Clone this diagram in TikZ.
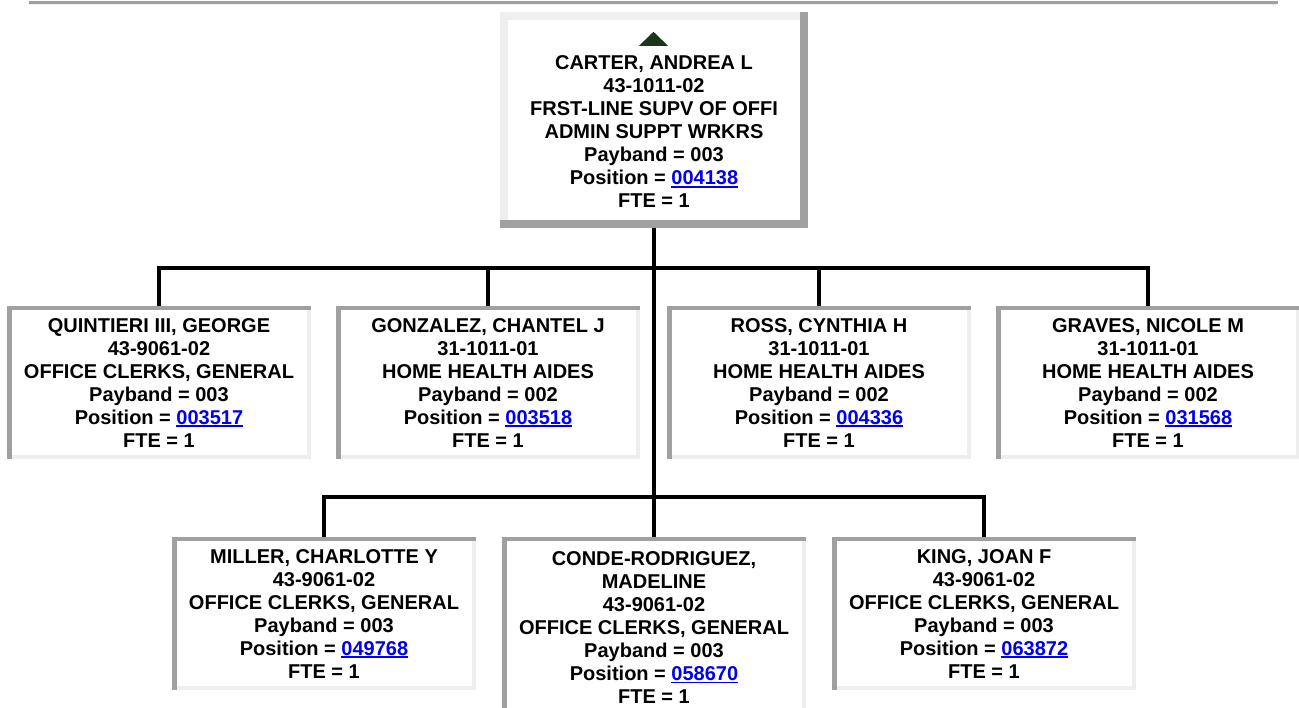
\documentclass[tikz,border=0pt]{standalone}
\usepackage{fontspec}
\setmainfont{Liberation Sans}
\definecolor{rimdark}{HTML}{A0A0A0}
\definecolor{rimlight}{HTML}{EEEEEE}
\definecolor{linkblue}{HTML}{0000EE}
\definecolor{upgreen}{HTML}{1C361C}
\newcommand{\poslink}[1]{\textcolor{linkblue}{\setbox0=\hbox{#1}\rlap{\rule[-2.6pt]{\wd0}{1.6pt}}\box0}}

\begin{document}
\begin{tikzpicture}[x=1pt, y=-1pt, font=\fontsize{20}{23}\selectfont\bfseries,
    emp/.style={anchor=north, minimum width=304pt, minimum height=153pt,
        inner xsep=4pt, inner ysep=10.5pt, align=center, fill=white,
        path picture={
            \fill[rimlight] ([xshift=-4pt]path picture bounding box.north east) rectangle (path picture bounding box.south east);
            \fill[rimlight] ([yshift=4pt]path picture bounding box.south west) rectangle (path picture bounding box.south east);
            \fill[rimdark] (path picture bounding box.north west) rectangle ([yshift=-4pt]path picture bounding box.north east);
            \fill[rimdark] (path picture bounding box.north west) rectangle ([xshift=5pt]path picture bounding box.south west);
        }},
    boss/.style={minimum width=308pt, minimum height=216pt, align=center, fill=white,
        path picture={
            \fill[rimdark] ([xshift=-8pt]path picture bounding box.north east) rectangle (path picture bounding box.south east);
            \fill[rimdark] ([yshift=8pt]path picture bounding box.south west) rectangle (path picture bounding box.south east);
            \fill[rimlight] (path picture bounding box.north west) rectangle ([yshift=-8pt,xshift=-8pt]path picture bounding box.north east);
            \fill[rimlight] (path picture bounding box.north west) rectangle ([xshift=8pt,yshift=8pt]path picture bounding box.south west);
        }},
    wire/.style={line width=4pt}]
    \clip (0,0) rectangle (1299,708);

    % page rule
    \fill[rimdark] (29,1) rectangle (1278,4);
    \fill[rimlight] (29,4) rectangle (1278,5.5);

    % manager
    \node[boss] (carter) at (654,120) {\rule{0pt}{15pt}\\ CARTER, ANDREA L\\ 43-1011-02\\ FRST-LINE SUPV OF OFFI\\ ADMIN SUPPT WRKRS\\ Payband = 003\\ Position = \poslink{004138}\\ FTE = 1};
    \fill[upgreen] ([yshift=-20pt,xshift=-0.5pt]carter.north) -- ++(14.5,14) -- ++(-29,0) -- cycle;

    % first row
    \node[emp] (quintieri) at (159,306) {QUINTIERI III, GEORGE\\ 43-9061-02\\ OFFICE CLERKS, GENERAL\\ Payband = 003\\ Position = \poslink{003517}\\ FTE = 1};
    \node[emp] (gonzalez) at (488,306) {GONZALEZ, CHANTEL J\\ 31-1011-01\\ HOME HEALTH AIDES\\ Payband = 002\\ Position = \poslink{003518}\\ FTE = 1};
    \node[emp] (ross) at (819,306) {ROSS, CYNTHIA H\\ 31-1011-01\\ HOME HEALTH AIDES\\ Payband = 002\\ Position = \poslink{004336}\\ FTE = 1};
    \node[emp] (graves) at (1148,306) {GRAVES, NICOLE M\\ 31-1011-01\\ HOME HEALTH AIDES\\ Payband = 002\\ Position = \poslink{031568}\\ FTE = 1};

    % second row
    \node[emp] (miller) at (324,537) {MILLER, CHARLOTTE Y\\ 43-9061-02\\ OFFICE CLERKS, GENERAL\\ Payband = 003\\ Position = \poslink{049768}\\ FTE = 1};
    \node[emp, minimum height=181pt] (conde) at (654,537) {CONDE-RODRIGUEZ,\\ MADELINE\\ 43-9061-02\\ OFFICE CLERKS, GENERAL\\ Payband = 003\\ Position = \poslink{058670}\\ FTE = 1};
    \node[emp] (king) at (984,537) {KING, JOAN F\\ 43-9061-02\\ OFFICE CLERKS, GENERAL\\ Payband = 003\\ Position = \poslink{063872}\\ FTE = 1};

    % connectors
    \coordinate (bus1) at (654,268);
    \coordinate (bus2) at (654,497);
    \draw[wire] (carter.south) -- (conde.north);
    \draw[wire] (quintieri.north) |- (bus1) -| (graves.north);
    \draw[wire] (gonzalez.north) -- (gonzalez.north |- bus1);
    \draw[wire] (ross.north) -- (ross.north |- bus1);
    \draw[wire] (miller.north) |- (bus2) -| (king.north);
\end{tikzpicture}
\end{document}
